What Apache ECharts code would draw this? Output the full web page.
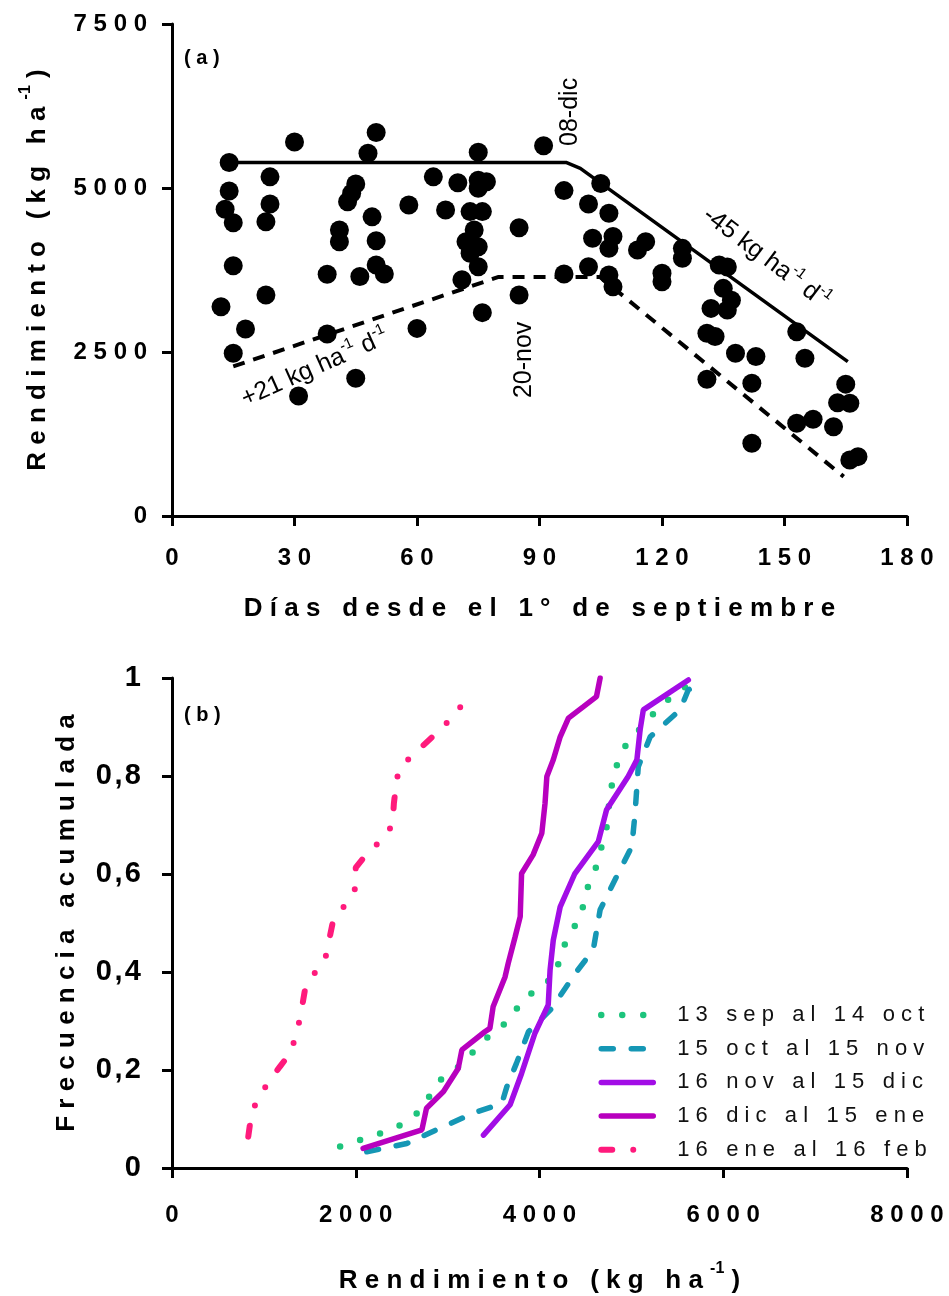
<!DOCTYPE html>
<html>
<head>
<meta charset="utf-8">
<script src="https://cdn.jsdelivr.net/npm/echarts@6/dist/echarts.min.js"></script>
<style>
  html, body { margin: 0; padding: 0; background: #fff; }
  #chart { width: 949px; height: 1296px; }
</style>
</head>
<body>
<div id="chart"></div>
<script>
// ---------- Panel (a): yield vs. sowing date ----------
const sowDay = [14, 30, 50, 48, 24, 14, 13, 15, 24, 23, 45, 44, 43, 49, 41, 41, 50, 58, 15, 38,
  46, 50, 52, 23, 12, 18, 38, 15, 45, 31, 60, 91, 75, 64, 70, 75, 77, 75, 67, 73,
  76, 74, 72, 75, 73, 75, 71, 85, 85, 76, 96, 105, 102, 107, 103, 108, 107, 102, 96, 107,
  108, 114, 116, 125, 125, 120, 120, 134, 136, 135, 137, 132, 136, 131, 133, 138, 143, 131, 142, 153,
  155, 142, 165, 163, 166, 153, 157, 162, 166, 168];
const yieldObs = [5390, 5700, 5845, 5530, 5170, 4955, 4675, 4470, 4755, 4485, 5060, 4920, 4790, 4560, 4360, 4180, 4195, 4740, 3815, 3685,
  3650, 3825, 3690, 3370, 3190, 2850, 2775, 2480, 2100, 1830, 2860, 5645, 5545, 5170, 5080, 5120, 5095, 4995, 4665, 4640,
  4640, 4360, 4180, 4105, 4005, 3800, 3600, 4395, 3370, 3100, 4960, 5070, 4755, 4615, 4235, 4260, 4080, 3800, 3690, 3675,
  3495, 4055, 4180, 4080, 3930, 3700, 3570, 3825, 3795, 3470, 3290, 3165, 3140, 2785, 2735, 2480, 2430, 2085, 2025, 2810,
  2405, 1110, 2010, 1725, 1720, 1415, 1475, 1360, 855, 905];

// Upper boundary model: plateau, then -45 kg/ha/day after 8 December (day 98)
const fitMaxDay = [14, 96.5, 100, 165.5];
const fitMaxYield = [5390, 5390, 5300, 2352.5];
// Mean model: +21 kg/ha/day up to 20 November (day 80), plateau, then decline
const fitMeanDay = [15, 80, 104.8, 164.5];
const fitMeanYield = [2280, 3645, 3645, 600];

const xTicksA = ['0', '30', '60', '90', '120', '150', '180'];
const yTicksA = ['0', '2500', '5000', '7500'];

// ---------- Panel (b): cumulative frequency of yield by sowing window ----------
const windowNames = ['13 sep al 14 oct', '15 oct al 15 nov', '16 nov al 15 dic', '16 dic al 15 ene', '16 ene al 16 feb'];

const sepOctYield = [1830, 2045, 2270, 2495, 2690, 2815, 2945, 3150, 3305, 3480, 3670, 3800, 3985, 4180, 4225,
  4330, 4460, 4490, 4595, 4655, 4725, 4750, 4780, 4835, 4930, 5085, 5245, 5420, 5620];
const sepOctFreq = [0.044, 0.057, 0.071, 0.088, 0.115, 0.150, 0.185, 0.210, 0.243, 0.275, 0.301, 0.339, 0.367, 0.393, 0.436,
  0.478, 0.516, 0.559, 0.600, 0.643, 0.686, 0.731, 0.775, 0.819, 0.860, 0.894, 0.928, 0.959, 0.986];

const octNovYield = [2120, 2555, 2880, 3280, 3590, 3645, 3750, 3880, 4150, 4205, 4405, 4585, 4660, 4840, 5005,
  5040, 5075, 5205, 5530, 5620, 5800];
const octNovFreq = [0.033, 0.050, 0.078, 0.112, 0.132, 0.166, 0.214, 0.278, 0.329, 0.346, 0.401, 0.445, 0.527, 0.595, 0.656,
  0.724, 0.819, 0.880, 0.935, 0.976, 0.992];

const novDicYield = [3390, 3680, 3805, 3950, 4095, 4115, 4150, 4225, 4385, 4640, 4730, 4965, 5060, 5095, 5130, 5620];
const novDicFreq = [0.067, 0.129, 0.193, 0.275, 0.333, 0.404, 0.465, 0.533, 0.601, 0.666, 0.731, 0.799, 0.833, 0.894, 0.935, 0.996];

const dicEneYield = [2080, 2720, 2770, 2955, 3115, 3155, 3405, 3460, 3495, 3625, 3660, 3735, 3790, 3805, 3930,
  4025, 4060, 4080, 4150, 4225, 4315, 4475, 4620, 4660];
const dicEneFreq = [0.040, 0.078, 0.122, 0.156, 0.203, 0.241, 0.278, 0.285, 0.329, 0.390, 0.418, 0.472, 0.513, 0.601, 0.639,
  0.683, 0.744, 0.799, 0.833, 0.880, 0.918, 0.941, 0.962, 1.000];

const eneFebYield = [830, 850, 910, 1035, 1175, 1285, 1355, 1405, 1450, 1520, 1665, 1710, 1755, 1865, 1990,
  2000, 2135, 2265, 2400, 2415, 2445, 2480, 2665, 2835, 3005, 3115, 3225];
const eneFebFreq = [0.064, 0.091, 0.133, 0.171, 0.207, 0.234, 0.273, 0.317, 0.367, 0.390, 0.424, 0.465, 0.506, 0.532, 0.569,
  0.613, 0.645, 0.666, 0.700, 0.744, 0.792, 0.818, 0.850, 0.880, 0.911, 0.932, 0.974];

const xTicksB = ['0', '2000', '4000', '6000', '8000'];
const yTicksB = ['0', '0,2', '0,4', '0,6', '0,8', '1'];

// ---------- helpers ----------
const FONT = '"Liberation Sans", Arial, Helvetica, sans-serif';
const HAIR = '\u200A';
// widen letter spacing by placing a separator between characters
const sp = (s, g) => Array.from(s).join(g);
const zip = (a, b) => a.map((v, i) => [v, b[i]]);

const seriesStyles = [
  { color: '#1DC47C', type: [0, 21], width: 6.5 },
  { color: '#1597B5', type: [12, 18], width: 5.5 },
  { color: '#A20DE6', type: 'solid', width: 5.5 },
  { color: '#B800BE', type: 'solid', width: 5.5 },
  { color: '#FF1A7C', type: [11, 21, 0, 21, 0, 21], width: 6 }
];
const cdfData = [
  zip(sepOctYield, sepOctFreq),
  zip(octNovYield, octNovFreq),
  zip(novDicYield, novDicFreq),
  zip(dicEneYield, dicEneFreq),
  zip(eneFebYield, eneFebFreq)
];

const axisLine = { show: true, onZero: false, lineStyle: { color: '#000', width: 3 } };
const axisTick = { show: true, length: 10, lineStyle: { color: '#000', width: 3 } };
const tickFont = { fontFamily: FONT, fontWeight: 'bold', fontSize: 24, color: '#000' };
const titleRich = {
  t: { fontFamily: FONT, fontWeight: 'bold', fontSize: 26, color: '#000', lineHeight: 40 },
  s: { fontFamily: FONT, fontWeight: 'bold', fontSize: 16, color: '#000', lineHeight: 16, verticalAlign: 'top' }
};
const annRich = {
  t: { fontFamily: FONT, fontSize: 25, color: '#000', lineHeight: 32 },
  s: { fontFamily: FONT, fontSize: 15, color: '#000', lineHeight: 14, verticalAlign: 'top' }
};
const yieldTitle = '{t|' + sp('Rendimiento (kg ha', ' ') + ' }{s|-1}{t| )}';

const chart = echarts.init(document.getElementById('chart'), null, { renderer: 'canvas' });

chart.setOption({
  animation: false,
  backgroundColor: '#fff',
  grid: [
    { left: 172, top: 24, width: 735, height: 492 },
    { left: 172, top: 678, width: 735, height: 490 }
  ],
  xAxis: [
    {
      gridIndex: 0, type: 'value', min: 0, max: 180, interval: 30,
      axisLine, axisTick, splitLine: { show: false },
      axisLabel: Object.assign({ margin: 30, formatter: v => sp(xTicksA[Math.round(v / 30)], ' ') }, tickFont),
      name: sp('Días desde el 1° de septiembre', ' '),
      nameLocation: 'middle', nameGap: 80,
      nameTextStyle: { fontFamily: FONT, fontWeight: 'bold', fontSize: 26, color: '#000' }
    },
    {
      gridIndex: 1, type: 'value', min: 0, max: 8000, interval: 2000,
      axisLine, axisTick, splitLine: { show: false },
      axisLabel: Object.assign({ margin: 35, formatter: v => sp(xTicksB[Math.round(v / 2000)], ' ') }, tickFont),
      name: yieldTitle,
      nameLocation: 'middle', nameGap: 93,
      nameTextStyle: { rich: titleRich }
    }
  ],
  yAxis: [
    {
      gridIndex: 0, type: 'value', min: 0, max: 7500, interval: 2500,
      axisLine, axisTick, splitLine: { show: false },
      axisLabel: Object.assign({ margin: 25, formatter: v => sp(yTicksA[Math.round(v / 2500)], ' ') }, tickFont),
      name: yieldTitle,
      nameLocation: 'middle', nameGap: 114,
      nameTextStyle: { rich: titleRich }
    },
    {
      gridIndex: 1, type: 'value', min: 0, max: 1, interval: 0.2,
      axisLine, axisTick, splitLine: { show: false },
      axisLabel: {
        margin: 31, fontFamily: FONT, fontWeight: 'bold', fontSize: 29, color: '#000',
        formatter: v => sp(yTicksB[Math.round(v / 0.2)], HAIR)
      },
      name: sp('Frecuencia acumulada', ' '),
      nameLocation: 'middle', nameGap: 92,
      nameTextStyle: { fontFamily: FONT, fontWeight: 'bold', fontSize: 26, color: '#000' }
    }
  ],
  legend: {
    orient: 'vertical', left: 593, top: 999, itemWidth: 52, itemHeight: 14, itemGap: 11.7,
    selectedMode: false,
    itemStyle: { opacity: 0, borderWidth: 0 },
    textStyle: { fontFamily: FONT, fontSize: 22, color: '#111', padding: [0, 0, 0, 19] },
    formatter: name => sp(name, ' '),
    data: windowNames.map((n, i) => ({
      name: n,
      itemStyle: { opacity: 0 },
      lineStyle: { color: seriesStyles[i].color, width: seriesStyles[i].width, type: seriesStyles[i].type, cap: 'round' }
    }))
  },
  graphic: [
    { type: 'text', x: 184, y: 48, style: { text: sp('(a)', ' '), font: 'bold 20px ' + FONT, fill: '#000' } },
    { type: 'text', x: 184, y: 705, style: { text: sp('(b)', ' '), font: 'bold 20px ' + FONT, fill: '#000' } }
  ],
  series: [
    {
      type: 'line', xAxisIndex: 0, yAxisIndex: 0, symbol: 'none', silent: true,
      lineStyle: { color: '#000', width: 3.5 },
      data: zip(fitMaxDay, fitMaxYield)
    },
    {
      type: 'line', xAxisIndex: 0, yAxisIndex: 0, symbol: 'none', silent: true,
      lineStyle: { color: '#000', width: 4, type: [12, 9] },
      data: zip(fitMeanDay, fitMeanYield)
    },
    {
      type: 'scatter', xAxisIndex: 0, yAxisIndex: 0, symbol: 'circle', symbolSize: 19,
      itemStyle: { color: '#000', opacity: 1 },
      data: zip(sowDay, yieldObs)
    },
    {
      // text annotations of panel (a)
      type: 'scatter', xAxisIndex: 0, yAxisIndex: 0, symbolSize: 1, silent: true,
      itemStyle: { color: 'rgba(0,0,0,0)', opacity: 1 },
      label: { show: true, position: 'inside', rich: annRich, opacity: 1 },
      data: [
        { value: [97.5, 6160], label: { rotate: 90, formatter: '{t|08-dic}' } },
        { value: [86.2, 2380], label: { rotate: 90, formatter: '{t|20-nov}' } },
        { value: [145.5, 3930], label: { rotate: -37, formatter: '{t|-45 kg ha}{s|-1}{t| d}{s|-1}' } },
        { value: [35, 2256], label: { rotate: 24, formatter: '{t|+21 kg ha}{s|-1}{t| d}{s|-1}' } }
      ]
    }
  ].concat(windowNames.map((n, i) => ({
    name: n, type: 'line', xAxisIndex: 1, yAxisIndex: 1, symbol: 'none', showSymbol: false, silent: true,
    lineStyle: { color: seriesStyles[i].color, width: seriesStyles[i].width, type: seriesStyles[i].type, cap: 'round' },
    itemStyle: { color: seriesStyles[i].color },
    data: cdfData[i]
  })))
});
</script>
</body>
</html>
